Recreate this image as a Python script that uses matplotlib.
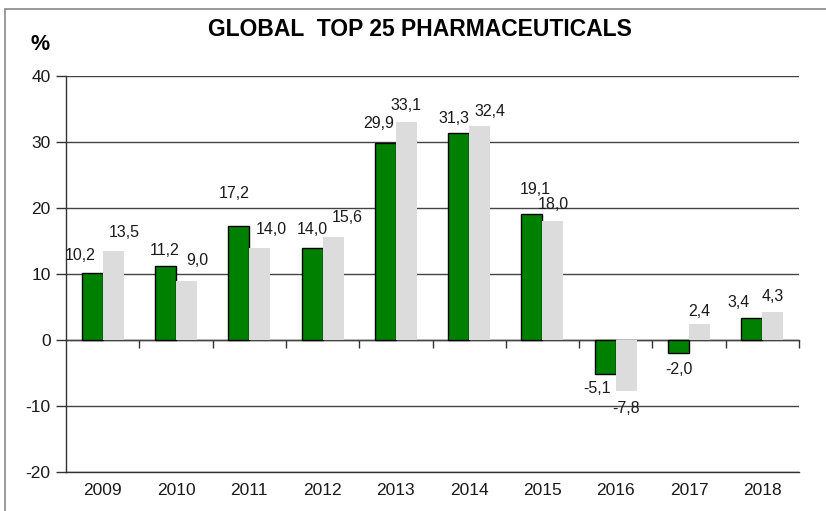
import numpy as np
import matplotlib
matplotlib.use("Agg")
import matplotlib.pyplot as plt
from matplotlib.patches import Rectangle

plt.rcParams['font.family'] = ['Liberation Sans', 'DejaVu Sans']

years = ['2009', '2010', '2011', '2012', '2013', '2014', '2015', '2016', '2017', '2018']
green_vals = [10.2, 11.2, 17.2, 14.0, 29.9, 31.3, 19.1, -5.1, -2.0, 3.4]
grey_vals = [13.5, 9.0, 14.0, 15.6, 33.1, 32.4, 18.0, -7.8, 2.4, 4.3]
yticks = [-20, -10, 0, 10, 20, 30, 40]

# label offsets in pixels (dx from bar centre, dy from bar end)
green_off = [(-12, 17), (-1, 16), (-5, 33), (0, 18), (-7, 19),
             (-5, 15), (3, 24), (-8, -15), (0, -16), (-13, 15)]
grey_off = [(11, 18), (11, 20), (12, 18), (14, 20), (0, 16),
            (10, 15), (0, 17), (0, -17), (0, 13), (0, 15)]

fig = plt.figure(figsize=(8.26, 5.11), dpi=100)
ax = fig.add_axes([66 / 826, 1 - 472 / 511, 733 / 826, 396 / 511])

x = np.arange(len(years))
w = 0.286
ax.bar(x - w / 2, green_vals, w, color='#008000', edgecolor='black', linewidth=1, zorder=3)
ax.bar(x + w / 2, grey_vals, w, color='#dcdcdc', edgecolor='none', zorder=3)

for i in range(len(years)):
    for xs, v, off in ((x[i] - w / 2, green_vals[i], green_off[i]),
                       (x[i] + w / 2, grey_vals[i], grey_off[i])):
        ax.annotate(f'{v:.1f}'.replace('.', ','), (xs, v), xytext=off,
                    textcoords='offset pixels', ha='center', va='center',
                    fontsize=11.5, color='#1a1a1a', zorder=4)

ax.set_xlim(-0.5, len(years) - 0.5)
ax.set_ylim(-20, 40)
ax.set_yticks(yticks)
ax.set_yticklabels([str(t) for t in yticks], fontsize=12.5, color='#1a1a1a')
ax.set_xticks(x)
ax.set_xticklabels(years, fontsize=12.5, color='#1a1a1a')
ax.tick_params(axis='x', length=0, pad=8)
ax.tick_params(axis='y', length=7, width=1, color='#333333', pad=4)
ax.grid(axis='y', color='#444444', linewidth=1, zorder=1)

for s in ['top', 'right']:
    ax.spines[s].set_visible(False)
for s in ['left', 'bottom']:
    ax.spines[s].set_color('#333333')
    ax.spines[s].set_linewidth(1)

# zero line with category separators
zero = ax.secondary_xaxis(1 / 3)
zero.set_xticks(np.arange(len(years)) + 0.5)
zero.set_xticklabels([])
zero.tick_params(length=6, width=1, color='#333333', direction='out')
zero.spines['bottom'].set_color('#333333')
zero.spines['bottom'].set_linewidth(1)

fig.text(420 / 826, 1 - 30 / 511, 'GLOBAL  TOP 25 PHARMACEUTICALS', ha='center', va='center',
         fontsize=16.5, fontweight='bold', color='black')
fig.text(40 / 826, 1 - 45 / 511, '%', ha='center', va='center',
         fontsize=15.5, fontweight='bold', color='black')

fig.patches.append(Rectangle((5 / 826, -0.1), 1.1, 1.1 - 9 / 511, transform=fig.transFigure,
                             fill=False, edgecolor='#888888', linewidth=1.2))

fig.savefig('out.png', dpi=100)
